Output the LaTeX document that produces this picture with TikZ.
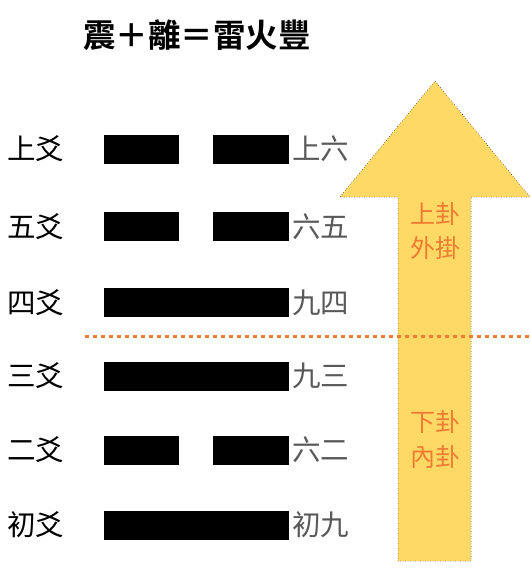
\documentclass[tikz,border=0pt]{standalone}
\usepackage{fontspec}
\newfontfamily\cjk{Noto Sans CJK TC}
\newfontfamily\cjkb{Noto Sans CJK TC Bold}
\definecolor{arrowfill}{HTML}{FFD966}
\definecolor{orangetxt}{HTML}{ED7D31}
\definecolor{graytxt}{HTML}{595959}
\begin{document}
\begin{tikzpicture}[x=1pt,y=-1pt,
  yaoname/.style={anchor=west,inner sep=0pt,font=\cjk\fontsize{28.5}{30}\selectfont,text=black},
  yaoval/.style={anchor=west,inner sep=0pt,font=\cjk\fontsize{28.5}{30}\selectfont,text=graytxt},
  bar/.style={fill=black,draw=none,minimum height=29pt,inner sep=0pt},
  arrowlbl/.style={inner sep=0pt,font=\cjk\fontsize{25}{28}\selectfont,text=orangetxt},
  divider/.style={draw=orangetxt,line width=3.5pt,dash pattern=on 3.5pt off 4.5pt}]
\useasboundingbox (0,0) rectangle (531,574);
% title
\node[inner sep=0pt,font=\cjkb\fontsize{32.5}{36}\selectfont] (title) at (197,35) {震＋離＝雷火豐};
% arrow
\draw[fill=arrowfill,draw=black,line width=0.5pt,dotted]
  (398,561) -- (398,197) -- (340,197) -- (435,81) -- (530,197) -- (471,197) -- (471,561) -- cycle;
\node[arrowlbl] (up1) at (435,214) {上卦};
\node[arrowlbl] (up2) at (435,248) {外掛};
\node[arrowlbl] (lo1) at (435,422) {下卦};
\node[arrowlbl] (lo2) at (435,457) {內卦};
% rows
\foreach \i/\y/\nm/\val/\brk in {6/149/上爻/上六/1, 5/226.5/五爻/六五/1, 4/302.5/四爻/九四/0, 3/376/三爻/九三/0, 2/450/二爻/六二/1, 1/525/初爻/初九/0}{
  \node[yaoname] (n\i) at (7,\y) {\nm};
  \ifnum\brk=1
    \node[bar,minimum width=75pt] (bl\i) at (141.5,\y) {};
    \node[bar,minimum width=76pt] (br\i) at (251,\y) {};
  \else
    \node[bar,minimum width=185pt] (bl\i) at (196.5,\y) {};
  \fi
  \node[yaoval] (v\i) at (292,\y) {\val};
}
% divider
\coordinate (dL) at (85,336.5);
\coordinate (dR) at (531,336.5);
\draw[divider] (dL) -- (dR);
\end{tikzpicture}
\end{document}
